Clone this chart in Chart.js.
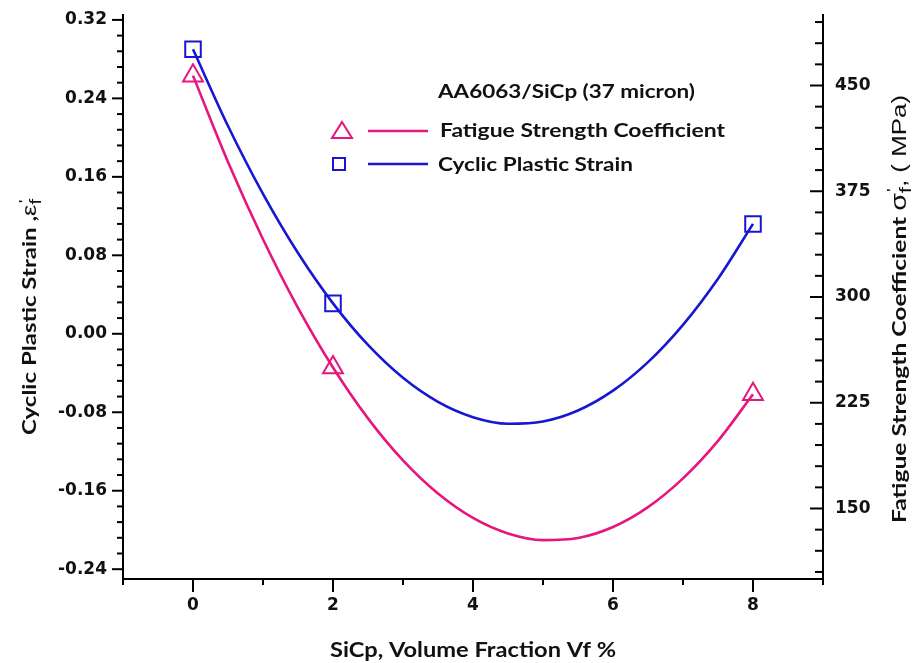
<!DOCTYPE html>
<html>
<head>
<meta charset="utf-8">
<script src="https://cdn.jsdelivr.net/npm/chart.js@4.4.0/dist/chart.umd.min.js"></script>
<style>
  html, body { margin: 0; padding: 0; background: #fff; }
</style>
</head>
<body>
<canvas id="chart" width="924" height="663"></canvas>
<script>
// measured points
const volumeFraction = [0, 2, 8];
const fatigueStrength = [457, 250, 231];      // MPa, right axis
const plasticStrain = [0.290, 0.031, 0.112];   // left axis

// fitted curves
const fitX = [0, 0.5, 1, 1.5, 2, 2.5, 3, 3.5, 4, 4.5, 5, 5.5, 6, 6.5, 7, 7.5, 8];
const fatigueFit = [457, 395.8, 341.0, 292.3, 250, 213.9, 184.1, 160.6, 143.3, 132.3, 127.6, 129.1, 136.9, 151.0, 171.4, 198.0, 231];
const strainFit = [0.290, 0.2118, 0.1426, 0.0823, 0.031, -0.0114, -0.0449, -0.0694, -0.085, -0.0917, -0.0894, -0.0782, -0.058, -0.0289, 0.0091, 0.0561, 0.112];

// tick labels
const xTicks = [0, 2, 4, 6, 8];
const strainTicks = [-0.24, -0.16, -0.08, 0, 0.08, 0.16, 0.24, 0.32];
const fatigueTicks = [150, 225, 300, 375, 450];

const PINK = '#e5177f';
const BLUE = '#1717d2';
const TITLE_FONT = '"Lato", "Open Sans", sans-serif';

function pairs(xs, ys) {
  return xs.map((x, i) => ({ x: x, y: ys[i] }));
}

// draw a line of text made of several runs (for primes and subscripts)
function drawRuns(ctx, runs, x, y, rot, width, align) {
  ctx.save();
  ctx.translate(x, y);
  ctx.rotate(rot);
  let total = 0;
  runs.forEach(r => {
    ctx.font = r.font;
    r.w = ctx.measureText(r.text).width;
    if (r.adv !== false) total += r.w;
  });
  ctx.scale(width ? width / total : 1, 1);
  let cx = align === 'left' ? 0 : -total / 2;
  ctx.fillStyle = '#111';
  ctx.textBaseline = 'alphabetic';
  ctx.textAlign = 'left';
  runs.forEach(r => {
    ctx.font = r.font;
    ctx.fillText(r.text, cx + (r.dx || 0), r.dy || 0);
    if (r.adv !== false) cx += r.w;
  });
  ctx.restore();
}

const extras = {
  id: 'extras',
  afterDraw(chart) {
    const ctx = chart.ctx, a = chart.chartArea;
    const sx = chart.scales.x, sl = chart.scales.y, sr = chart.scales.y1;
    ctx.save();
    ctx.strokeStyle = '#000';
    ctx.lineWidth = 2;
    const line = (x1, y1, x2, y2) => { ctx.beginPath(); ctx.moveTo(x1, y1); ctx.lineTo(x2, y2); ctx.stroke(); };
    const isMajor = (v, list) => list.some(t => Math.abs(t - v) < 1e-6);

    // left axis ticks (outside)
    for (let v = -0.24; v <= sl.max + 1e-9; v += 0.016) {
      const y = sl.getPixelForValue(v);
      if (isMajor(v, strainTicks)) line(a.left - 11, y, a.left, y);
      else line(a.left - 6, y, a.left, y);
    }
    // right axis ticks (inside)
    for (let v = 105; v <= sr.max; v += 15) {
      const y = sr.getPixelForValue(v);
      if (isMajor(v, fatigueTicks)) line(a.right - 13, y, a.right, y);
      else line(a.right - 8, y, a.right, y);
    }
    // bottom ticks (outside)
    for (let v = sx.min; v <= sx.max; v += 1) {
      const x = sx.getPixelForValue(v);
      if (isMajor(v, xTicks)) line(x, a.bottom, x, a.bottom + 13);
      else line(x, a.bottom, x, a.bottom + 6);
    }

    // axis titles
    drawRuns(ctx, [
      { text: 'Cyclic Plastic Strain ,', font: 'bold 19px ' + TITLE_FONT },
      { text: 'ε', font: '20px "Liberation Sans"' },
      { text: "'", font: '15px "Liberation Sans"', dy: -7, adv: false, dx: 1 },
      { text: 'f', font: '16px "Liberation Sans"', dy: 5 }
    ], 36, 317, -Math.PI / 2, 236);
    drawRuns(ctx, [
      { text: 'Fatigue Strength Coefficient ', font: 'bold 19px ' + TITLE_FONT },
      { text: 'σ', font: '22px "Liberation Sans"' },
      { text: "'", font: '15px "Liberation Sans"', dy: -9, adv: false, dx: 1 },
      { text: 'f', font: '17px "Liberation Sans"', dy: 5 },
      { text: ', ( MPa)', font: '20px "Liberation Sans"' }
    ], 906, 309, -Math.PI / 2, 428);
    drawRuns(ctx, [{ text: 'SiCp, Volume Fraction Vf %', font: 'bold 20px ' + TITLE_FONT }],
      473, 657, 0, 286);

    // legend
    drawRuns(ctx, [{ text: 'AA6063/SiCp (37 micron)', font: 'bold 19px ' + TITLE_FONT }],
      438, 98, 0, 257, 'left');
    drawRuns(ctx, [{ text: 'Fatigue Strength Coefficient', font: 'bold 19px ' + TITLE_FONT }],
      440, 137, 0, 285, 'left');
    drawRuns(ctx, [{ text: 'Cyclic Plastic Strain', font: 'bold 19px ' + TITLE_FONT }],
      438, 171, 0, 195, 'left');

    ctx.lineWidth = 2.5;
    ctx.strokeStyle = PINK;
    line(368, 131, 428, 131);
    ctx.lineWidth = 2;
    ctx.beginPath();
    ctx.moveTo(342, 122); ctx.lineTo(352, 138); ctx.lineTo(332, 138); ctx.closePath();
    ctx.stroke();
    ctx.strokeStyle = BLUE;
    ctx.lineWidth = 2.5;
    line(368, 164, 428, 164);
    ctx.lineWidth = 2;
    ctx.strokeRect(333, 158, 12, 12);
    ctx.restore();
  }
};

const tickFont = { family: '"DejaVu Sans"', weight: 'bold', size: 17 };
const noPad = s => { s.paddingTop = 0; s.paddingBottom = 0; s.paddingLeft = 0; s.paddingRight = 0; };

new Chart(document.getElementById('chart'), {
  type: 'scatter',
  data: {
    datasets: [
      {
        label: 'Fatigue Strength Coefficient',
        data: pairs(volumeFraction, fatigueStrength),
        yAxisID: 'y1',
        showLine: false,
        pointStyle: 'triangle',
        pointRadius: 11.5,
        borderColor: PINK,
        borderWidth: 2,
        backgroundColor: 'rgba(0,0,0,0)'
      },
      {
        label: 'Cyclic Plastic Strain',
        data: pairs(volumeFraction, plasticStrain),
        yAxisID: 'y',
        showLine: false,
        pointStyle: 'rect',
        pointRadius: 11,
        borderColor: BLUE,
        borderWidth: 2,
        backgroundColor: 'rgba(0,0,0,0)'
      },
      {
        label: 'fatigue fit',
        data: pairs(fitX, fatigueFit),
        yAxisID: 'y1',
        showLine: true,
        pointRadius: 0,
        cubicInterpolationMode: 'monotone',
        borderColor: PINK,
        borderWidth: 2.6
      },
      {
        label: 'strain fit',
        data: pairs(fitX, strainFit),
        yAxisID: 'y',
        showLine: true,
        pointRadius: 0,
        cubicInterpolationMode: 'monotone',
        borderColor: BLUE,
        borderWidth: 2.6
      }
    ]
  },
  options: {
    responsive: false,
    animation: false,
    events: [],
    layout: { padding: { top: 15, left: 0, right: 0, bottom: 0 } },
    plugins: { legend: { display: false }, tooltip: { enabled: false } },
    scales: {
      x: {
        type: 'linear',
        min: -1,
        max: 9,
        afterBuildTicks: s => { s.ticks = xTicks.map(v => ({ value: v })); },
        afterFit: s => { s.height = 84; noPad(s); },
        grid: { display: false, drawTicks: false },
        border: { display: true, color: '#000', width: 2 },
        ticks: { font: tickFont, color: '#111', padding: 16, autoSkip: false, maxRotation: 0,
                 callback: v => String(v) }
      },
      y: {
        position: 'left',
        min: -0.25,
        max: 0.325,
        afterBuildTicks: s => { s.ticks = strainTicks.map(v => ({ value: v })); },
        afterFit: s => { s.width = 123; noPad(s); },
        grid: { display: false, drawTicks: false },
        border: { display: true, color: '#000', width: 2 },
        ticks: { font: tickFont, color: '#111', padding: 16, autoSkip: false,
                 callback: v => v.toFixed(2) }
      },
      y1: {
        position: 'right',
        min: 100,
        max: 500,
        afterBuildTicks: s => { s.ticks = fatigueTicks.map(v => ({ value: v })); },
        afterFit: s => { s.width = 101; noPad(s); },
        grid: { display: false, drawTicks: false },
        border: { display: true, color: '#000', width: 2 },
        ticks: { font: tickFont, color: '#111', padding: 12, autoSkip: false,
                 callback: v => String(v) }
      }
    }
  },
  plugins: [extras]
});
</script>
</body>
</html>
